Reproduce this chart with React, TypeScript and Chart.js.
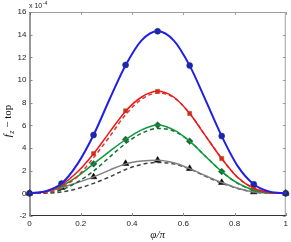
import { useEffect, useRef } from "react";
import { Chart, registerables } from "chart.js";

Chart.register(...registerables);

// values in units of 1e-4
const lineX = [0, 0.0625, 0.125, 0.1875, 0.25, 0.3125, 0.375, 0.4375, 0.5, 0.5625, 0.625, 0.6875, 0.75, 0.8125, 0.875, 0.9375, 1];
const blueLine = [0, 0.18, 0.86, 2.6, 5.15, 8.3, 11.3, 13.5, 14.3, 13.5, 11.27, 8.2, 5.05, 2.4, 0.8, 0.15, 0];
const redLine = [0, 0.15, 0.75, 1.9, 3.5, 5.4, 7.25, 8.5, 9.0, 8.5, 7.05, 5.05, 3.07, 1.4, 0.45, 0.08, 0];
const redDash = [0, 0.05, 0.5, 1.5, 3.15, 5.0, 6.95, 8.3, 8.85, 8.45, 7.05, 5.05, 3.07, 1.4, 0.45, 0.08, 0];
const greenLine = [0, 0.15, 0.65, 1.5, 2.6, 3.7, 4.75, 5.6, 6.02, 5.6, 4.6, 3.25, 1.92, 0.9, 0.3, 0.05, 0];
const greenDash = [0, 0.03, 0.3, 1.0, 1.97, 3.2, 4.4, 5.3, 5.72, 5.5, 4.6, 3.25, 1.92, 0.88, 0.28, 0.05, 0];
const grayLine = [0, 0.15, 0.5, 0.95, 1.45, 2.05, 2.6, 2.85, 2.92, 2.7, 2.18, 1.55, 0.95, 0.45, 0.12, 0.03, 0];
const grayDash = [0, 0.02, 0.12, 0.42, 0.88, 1.45, 2.1, 2.55, 2.72, 2.6, 2.15, 1.5, 0.9, 0.43, 0.1, 0.02, 0];

const markerX = [0, 0.125, 0.25, 0.375, 0.5, 0.625, 0.75, 0.875, 1];
const blueMarks = [0, 0.86, 5.15, 11.33, 14.3, 11.27, 5.05, 0.8, 0];
const redMarks = [0, 0.75, 3.5, 7.28, 9.0, 7.05, 3.07, 0.45, 0];
const greenMarks = [0, 0.65, 2.6, 4.75, 6.02, 4.6, 1.92, 0.3, 0];
const blackMarks = [0, 0.5, 1.45, 2.63, 2.92, 2.18, 0.95, 0.12, 0];

const xTicks = [0, 0.2, 0.4, 0.6, 0.8, 1];
const yTicks = [-2, 0, 2, 4, 6, 8, 10, 12, 14, 16];

const pts = (xs: number[], ys: number[]) => xs.map((x, i) => ({ x, y: ys[i] }));

const lineDs = (label: string, ys: number[], color: string, dashed: boolean, width = 1.5) => ({
  label,
  data: pts(lineX, ys),
  borderColor: color,
  borderWidth: width,
  borderDash: dashed ? [4, 3] : [],
  pointRadius: 0,
  fill: false,
  cubicInterpolationMode: "monotone" as const,
  showLine: true,
});

const markDs = (label: string, ys: number[], color: string, style: string, r: number) => ({
  label,
  data: pts(markerX, ys),
  showLine: false,
  pointStyle: style,
  pointRadius: r,
  pointBackgroundColor: color,
  pointBorderColor: color,
  pointBorderWidth: 0.5,
  clip: false as const,
});

const framePlugin = {
  id: "frame",
  beforeDatasetsDraw(chart: any) {
    const { ctx, chartArea: a, scales } = chart;
    const xs = scales.x;
    const ys = scales.y;
    ctx.save();
    ctx.lineWidth = 1;
    ctx.strokeStyle = "#a0a0a0";
    ctx.beginPath();
    ctx.moveTo(a.left, a.top + 0.5);
    ctx.lineTo(a.right, a.top + 0.5);
    ctx.moveTo(a.right - 0.5, a.top);
    ctx.lineTo(a.right - 0.5, a.bottom);
    xTicks.forEach((v) => {
      const p = Math.round(xs.getPixelForValue(v)) + 0.5;
      ctx.moveTo(p, a.top);
      ctx.lineTo(p, a.top + 3);
    });
    yTicks.forEach((v) => {
      const p = Math.round(ys.getPixelForValue(v)) + 0.5;
      ctx.moveTo(a.right, p);
      ctx.lineTo(a.right - 3, p);
    });
    ctx.stroke();
    ctx.strokeStyle = "#333";
    ctx.beginPath();
    ctx.moveTo(a.left + 0.5, a.top);
    ctx.lineTo(a.left + 0.5, a.bottom);
    ctx.moveTo(a.left, a.bottom - 0.5);
    ctx.lineTo(a.right, a.bottom - 0.5);
    ctx.stroke();
    ctx.strokeStyle = "#888";
    ctx.beginPath();
    xTicks.forEach((v) => {
      const p = Math.round(xs.getPixelForValue(v)) + 0.5;
      ctx.moveTo(p, a.bottom);
      ctx.lineTo(p, a.bottom - 3);
    });
    yTicks.forEach((v) => {
      const p = Math.round(ys.getPixelForValue(v)) + 0.5;
      ctx.moveTo(a.left, p);
      ctx.lineTo(a.left + 3, p);
    });
    ctx.stroke();
    ctx.restore();
  },
  afterDraw(chart: any) {
    const { ctx, chartArea: a } = chart;
    ctx.save();
    ctx.fillStyle = "#222";
    ctx.textBaseline = "alphabetic";
    ctx.font = "7px 'Liberation Sans', Arial, sans-serif";
    ctx.fillText("x 10", a.left - 0.5, a.top - 4);
    const w = ctx.measureText("x 10").width;
    ctx.font = "5px 'Liberation Sans', Arial, sans-serif";
    ctx.fillText("-4", a.left - 0.5 + w + 0.5, a.top - 7.5);
    ctx.translate(11, 121);
    ctx.rotate(-Math.PI / 2);
    const fF = "italic 11px 'Liberation Serif', 'DejaVu Serif', serif";
    const fZ = "italic 8px 'Liberation Serif', 'DejaVu Serif', serif";
    const fR = "11px 'Liberation Serif', 'DejaVu Serif', serif";
    ctx.font = fF;
    const w1 = ctx.measureText("f").width + 0.5;
    ctx.font = fZ;
    const w2 = ctx.measureText("z").width;
    ctx.font = fR;
    const w3 = ctx.measureText(" \u2212 top").width;
    let x0 = -(w1 + w2 + w3) / 2;
    ctx.fillStyle = "#111";
    ctx.font = fF;
    ctx.fillText("f", x0, 0);
    x0 += w1;
    ctx.font = fZ;
    ctx.fillText("z", x0, 2.5);
    x0 += w2;
    ctx.font = fR;
    ctx.fillText(" \u2212 top", x0, 0);
    ctx.restore();
  },
};

export default function App() {
  const ref = useRef<HTMLCanvasElement | null>(null);
  useEffect(() => {
    document.body.style.margin = "0";
    const canvas = ref.current;
    if (!canvas) return;
    const tickFont = { family: "'Liberation Sans', Arial, sans-serif", size: 8 };
    const chart = new Chart(canvas, {
      type: "line",
      data: {
        datasets: [
          lineDs("blue", blueLine, "#1f1fe6", false, 2),
          lineDs("red", redLine, "#f01818", false),
          lineDs("red dashed", redDash, "#e83030", true),
          lineDs("green", greenLine, "#0a9a3a", false),
          lineDs("green dashed", greenDash, "#106a2a", true),
          lineDs("gray", grayLine, "#808080", false),
          lineDs("gray dashed", grayDash, "#404040", true),
          markDs("blue pts", blueMarks, "#1a2d78", "circle", 3),
          markDs("red pts", redMarks, "#a8481c", "rect", 2.9),
          markDs("green pts", greenMarks, "#22603c", "rectRot", 3.4),
          markDs("black pts", blackMarks, "#000000", "triangle", 3.8),
        ],
      },
      options: {
        animation: false,
        responsive: false,
        devicePixelRatio: 1,
        layout: { padding: { top: 12, right: 3, left: 0, bottom: 0 } },
        plugins: { legend: { display: false }, tooltip: { enabled: false } },
        scales: {
          x: {
            type: "linear",
            min: 0,
            max: 1,
            afterFit: (s: any) => {
              s.height = 26;
            },
            afterBuildTicks: (s: any) => {
              s.ticks = xTicks.map((v) => ({ value: v }));
            },
            grid: { display: false, drawTicks: false },
            border: { display: false },
            ticks: {
              font: tickFont,
              color: "#222",
              padding: 3,
              maxRotation: 0,
              callback: (v: any) => String(Math.round(Number(v) * 10) / 10),
            },
            title: {
              display: true,
              text: "\u03c6/\u03c0",
              font: { family: "'Liberation Serif', 'DejaVu Serif', serif", size: 11, style: "italic" },
              color: "#222",
              padding: { top: 0, bottom: 0 },
            },
          },
          y: {
            type: "linear",
            min: -2,
            max: 16,
            afterFit: (s: any) => {
              s.width = 29.5;
            },
            afterBuildTicks: (s: any) => {
              s.ticks = yTicks.map((v) => ({ value: v }));
            },
            grid: { display: false, drawTicks: false },
            border: { display: false },
            ticks: { font: tickFont, color: "#222", padding: 3, callback: (v: any) => String(v) },
          },
        },
      },
      plugins: [framePlugin],
    } as any);
    return () => chart.destroy();
  }, []);
  return (
    <div style={{ position: "fixed", left: 0, top: 0, width: 291, height: 242, background: "#fff" }}>
      <canvas ref={ref} width={291} height={242} style={{ width: 291, height: 242 }} />
    </div>
  );
}
